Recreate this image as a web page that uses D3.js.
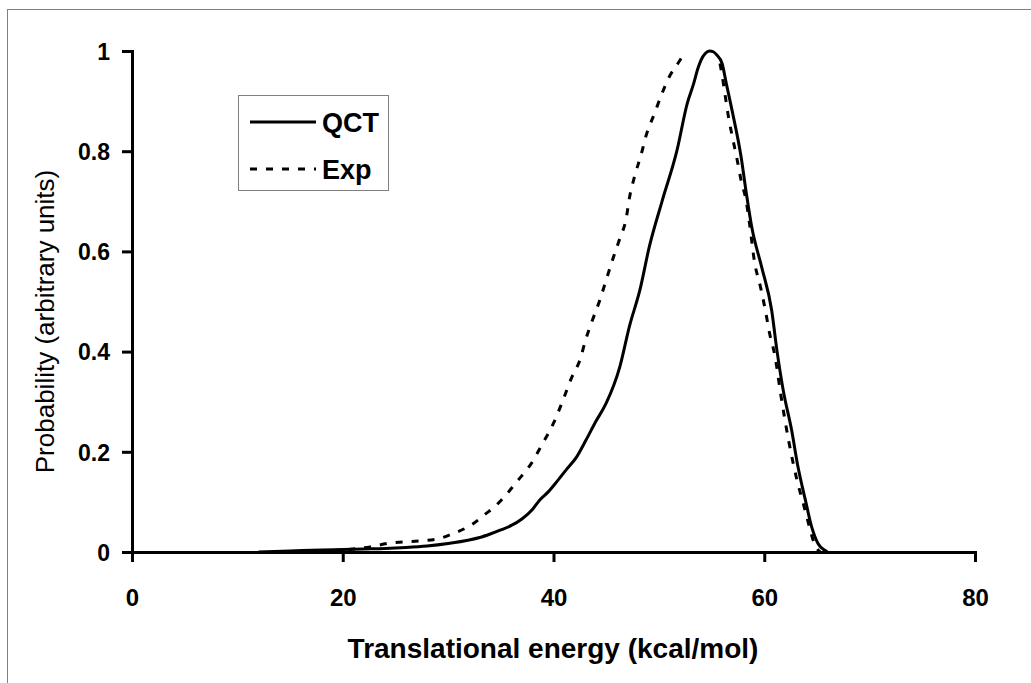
<!DOCTYPE html>
<html>
<head>
<meta charset="utf-8">
<script src="https://cdn.jsdelivr.net/npm/d3@7"></script>
<style>
  html, body { margin: 0; padding: 0; background: #fff; }
  svg { display: block; }
  text { font-family: "Liberation Sans", Arial, sans-serif; fill: #000; }
</style>
</head>
<body>
<svg id="chart" width="1031" height="683"></svg>
<script>
// Translational energy distributions (kcal/mol) — quasi-classical trajectories vs experiment
const qctEnergy = [12, 15, 18, 20, 22, 24, 26, 28, 30, 32, 33, 34, 35, 36, 37, 38, 38.7, 39.5, 40.3, 41.2,
  42.2, 43.1, 44, 45, 46.3, 47.2, 48.2, 49.1, 50.3, 51.7, 52.7, 53.3, 53.7, 54.0, 54.4, 54.8, 55.2, 55.5,
  56.0, 56.4, 57.0, 57.8, 58.3, 58.8, 59.75, 60.7, 61.2, 61.8, 62.6, 63.2, 63.9, 64.5, 65.1, 65.7, 66.0];
const qctProb = [0, 0.002, 0.004, 0.005, 0.006, 0.007, 0.009, 0.012, 0.017, 0.024, 0.029, 0.036, 0.044,
  0.053, 0.066, 0.085, 0.104, 0.12, 0.14, 0.164, 0.19, 0.224, 0.26, 0.297, 0.37, 0.45, 0.523, 0.61, 0.70,
  0.80, 0.896, 0.935, 0.965, 0.982, 0.995, 1.0, 0.998, 0.992, 0.975, 0.935, 0.876, 0.789, 0.716, 0.65,
  0.569, 0.483, 0.403, 0.323, 0.243, 0.17, 0.104, 0.05, 0.017, 0.004, 0];

// Experimental curve; null marks the break between its two branches
const expEnergy = [19, 21, 22.6, 24.5, 27.3, 29.2, 30.5, 32.2, 33.5, 34.5, 35.2, 36.5, 37.9, 38.9, 40.0,
  40.9, 41.7, 42.5, 43.1, 43.7, 44.4, 45.0, 45.6, 46.3, 46.9, 47.2, 47.7, 48.3, 48.8, 49.6, 50.2, 51.0,
  51.8, 52.5, 54.0, 55.8, 56.0, 56.3, 56.6, 57.0, 57.4, 57.8, 58.3, 58.6, 59.1, 59.6, 60.1, 60.5, 61.0,
  61.6, 62.3, 63.1, 63.7, 64.2, 64.7, 65.0, 65.3];
const expProb = [0.003, 0.006, 0.01, 0.018, 0.022, 0.027, 0.037, 0.054, 0.075, 0.092, 0.107, 0.14, 0.177,
  0.214, 0.257, 0.303, 0.347, 0.383, 0.427, 0.463, 0.503, 0.543, 0.583, 0.626, 0.666, 0.706, 0.75, 0.792,
  0.832, 0.876, 0.91, 0.949, 0.975, 0.998, null, 0.975, 0.952, 0.91, 0.869, 0.826, 0.786, 0.742, 0.699,
  0.656, 0.576, 0.533, 0.483, 0.437, 0.393, 0.31, 0.224, 0.144, 0.097, 0.057, 0.02, 0.007, 0];

const xTicks = [0, 20, 40, 60, 80];
const yTicks = [0, 0.2, 0.4, 0.6, 0.8, 1];
const yTickLabels = ["0", "0.2", "0.4", "0.6", "0.8", "1"];
const seriesNames = ["QCT", "Exp"];
const xTitle = "Translational energy (kcal/mol)";
const yTitle = "Probability (arbitrary units)";

const svg = d3.select("#chart");
const plot = { left: 132, right: 975, top: 51, bottom: 552 };

// outer chart frame
svg.append("rect")
  .attr("x", 7.5).attr("y", 9.5).attr("width", 1100).attr("height", 1000)
  .attr("fill", "none").attr("stroke", "#808080").attr("stroke-width", 1);

const x = d3.scaleLinear().domain([0, 80]).range([plot.left, plot.right]);
const y = d3.scaleLinear().domain([0, 1]).range([plot.bottom, plot.top]);

// axes
const xAxis = svg.append("g")
  .attr("transform", `translate(0,${plot.bottom})`)
  .call(d3.axisBottom(x).tickValues(xTicks).tickFormat(d3.format("d")).tickSizeInner(10).tickSizeOuter(10).tickPadding(27));
const yAxis = svg.append("g")
  .attr("transform", `translate(${plot.left},0)`)
  .call(d3.axisLeft(y).tickValues(yTicks).tickFormat((d, i) => yTickLabels[i]).tickSizeInner(10).tickSizeOuter(10).tickPadding(12));

[xAxis, yAxis].forEach(g => {
  g.select(".domain").attr("stroke", "#000").attr("stroke-width", 3);
  g.selectAll(".tick line").attr("stroke", "#000").attr("stroke-width", 3);
  g.selectAll(".tick text")
    .style("font-family", "'Liberation Sans', Arial, sans-serif")
    .style("font-weight", "bold").attr("fill", "#000");
});
xAxis.selectAll(".tick text").style("font-size", "24px");
yAxis.selectAll(".tick text").style("font-size", "23px").attr("dy", "0.36em");

// curves
const line = d3.line()
  .defined(d => d[1] !== null)
  .x(d => x(d[0])).y(d => y(d[1]))
  .curve(d3.curveMonotoneX);

const qct = qctEnergy.map((e, i) => [e, qctProb[i]]);
const exp = expEnergy.map((e, i) => [e, expProb[i]]);

svg.append("path").datum(qct)
  .attr("d", line).attr("fill", "none")
  .attr("stroke", "#000").attr("stroke-width", 3).attr("stroke-linejoin", "round");
svg.append("path").datum(exp)
  .attr("d", line).attr("fill", "none")
  .attr("stroke", "#000").attr("stroke-width", 3).attr("stroke-dasharray", "7,9");

// legend
const legend = svg.append("g");
legend.append("rect")
  .attr("x", 238.5).attr("y", 95.5).attr("width", 150).attr("height", 95)
  .attr("fill", "#fff").attr("stroke", "#808080").attr("stroke-width", 1);
const legendRows = [
  { name: seriesNames[0], dash: null, ly: 122 },
  { name: seriesNames[1], dash: "7,9", ly: 169 }
];
legendRows.forEach(r => {
  legend.append("line")
    .attr("x1", 250).attr("x2", 316).attr("y1", r.ly).attr("y2", r.ly)
    .attr("stroke", "#000").attr("stroke-width", 3)
    .attr("stroke-dasharray", r.dash);
  legend.append("text")
    .attr("x", 322).attr("y", r.ly).attr("dy", "0.36em")
    .style("font-weight", "bold").style("font-size", "27px")
    .text(r.name);
});

// axis titles
svg.append("text")
  .attr("x", 553).attr("y", 658)
  .attr("text-anchor", "middle")
  .style("font-weight", "bold").style("font-size", "28px")
  .text(xTitle);
svg.append("text")
  .attr("transform", `translate(54,${(plot.top + plot.bottom) / 2 + 20}) rotate(-90)`)
  .attr("text-anchor", "middle")
  .style("font-size", "26px")
  .text(yTitle);
</script>
</body>
</html>
